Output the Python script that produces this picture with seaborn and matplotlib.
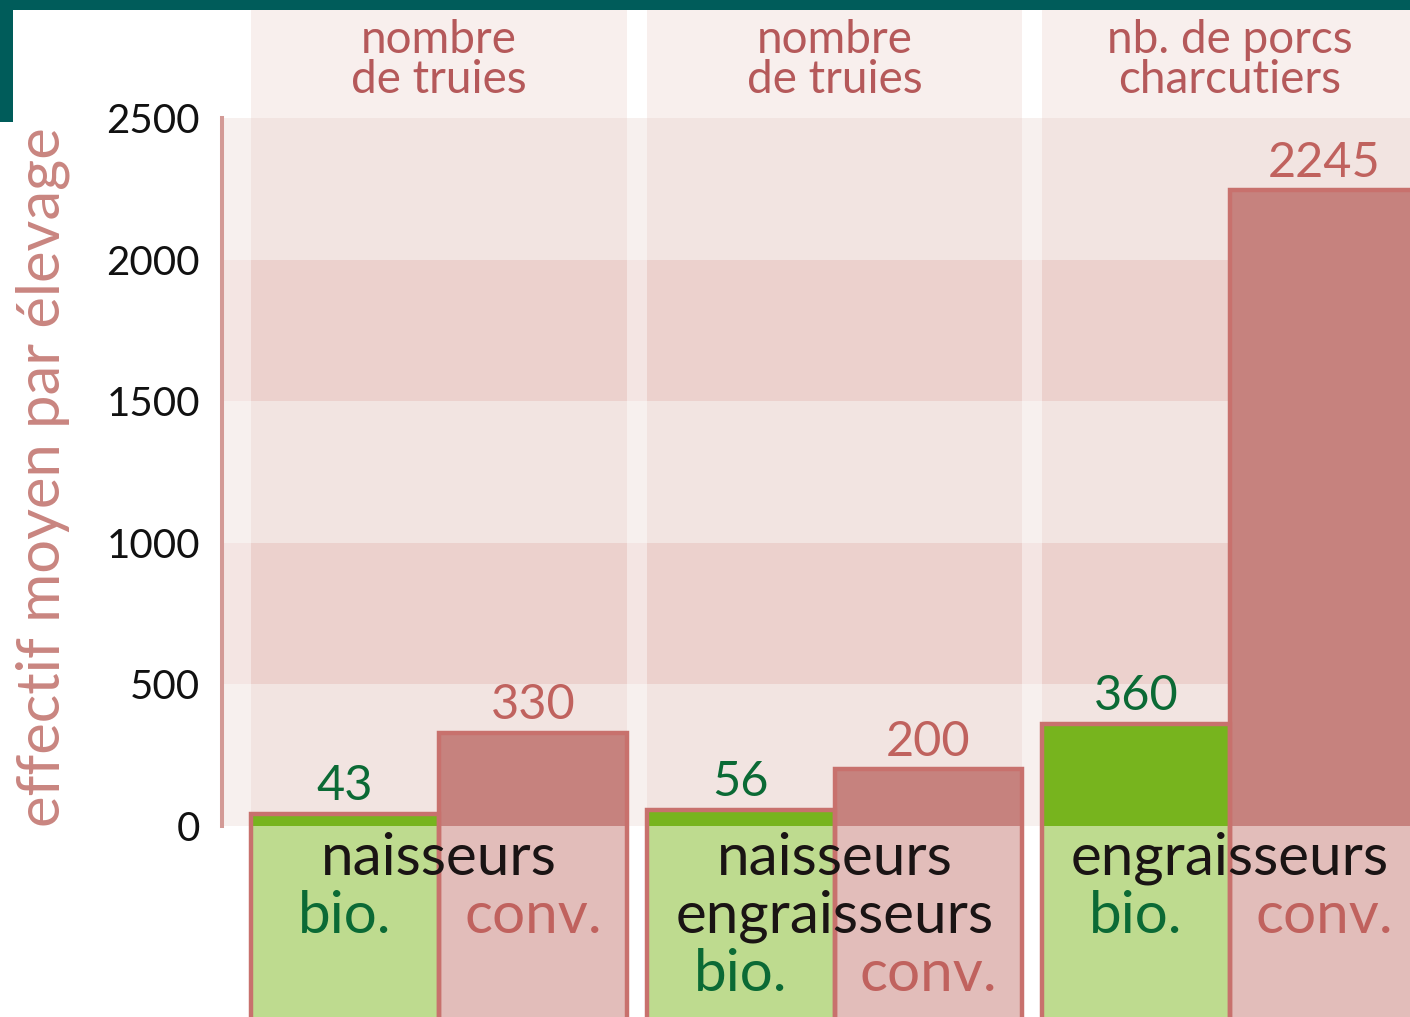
import pandas as pd
import matplotlib.pyplot as plt
import seaborn as sns
from matplotlib.patches import Rectangle

# data
groupes = ["naisseurs", "naisseurs\nengraisseurs", "engraisseurs"]
entetes = ["nombre\nde truies", "nombre\nde truies", "nb. de porcs\ncharcutiers"]
types = ["bio.", "conv."]
bio = [43, 56, 360]
conv = [330, 200, 2245]
yticks = [0, 500, 1000, 1500, 2000, 2500]

TEAL = "#005c5a"
EDGE = "#c8716d"
AXIS = "#d39a96"
BAR = {"bio.": "#77b41e", "conv.": "#c6827e"}
BOX = {"bio.": "#bedb8f", "conv.": "#e2bdba"}
TXT = {"bio.": "#0b6a35", "conv.": "#c0625e"}
STRIPE_LIGHT = "#f2e4e1"
STRIPE_DARK = "#ecd1cd"
HEADER = "#f8efed"


def main():
    df = pd.DataFrame({
        "groupe": groupes * 2,
        "type": [types[0]] * 3 + [types[1]] * 3,
        "effectif": bio + conv,
    })

    sns.set_style("white")
    plt.rcParams["font.family"] = ["Lato", "DejaVu Sans"]

    fig = plt.figure(figsize=(14.1, 10.17), dpi=100)
    ax = fig.add_axes([0, 0, 1, 1])

    sns.barplot(data=df, x="groupe", y="effectif", hue="type", hue_order=types,
                palette=BAR, width=0.95, gap=0, saturation=1, linewidth=0,
                legend=False, ax=ax, zorder=3)

    ymin, ymax = -674.4, 2916.7
    ax.set_xlim(-1.110, 2.455)
    ax.set_ylim(ymin, ymax)
    top = ymax - 10 / 0.2832

    # bar geometry as laid out by seaborn
    bars = list(ax.patches)
    n = len(groupes)
    cols = []
    for i in range(n):
        b, c = bars[i], bars[i + n]
        cols.append((b.get_x(), c.get_x() + c.get_width()))

    # background stripes
    xspine = -0.5487
    x0frac = (xspine - ax.get_xlim()[0]) / (ax.get_xlim()[1] - ax.get_xlim()[0])
    for k, (lo, hi) in enumerate(zip(yticks[:-1], yticks[1:])):
        ax.axhspan(lo, hi, xmin=x0frac, xmax=1,
                   color=STRIPE_LIGHT if k % 2 == 0 else STRIPE_DARK,
                   lw=0, zorder=0)
    # lighter gaps between the columns
    for i in range(n):
        left = xspine if i == 0 else cols[i - 1][1]
        right = cols[i][0]
        ax.add_patch(Rectangle((left, 0), right - left, yticks[-1],
                               facecolor="white", alpha=0.45, lw=0, zorder=1))
    # header boxes
    for (l, r), t in zip(cols, entetes):
        ax.add_patch(Rectangle((l, yticks[-1]), r - l, top - yticks[-1],
                               facecolor=HEADER, lw=0, zorder=1))
        ax.text((l + r) / 2, 2705, t, ha="center", va="center",
                fontsize=33, color="#b5595a", linespacing=0.92, zorder=5)

    # label boxes below zero + outlines running off the bottom edge
    for i, p in enumerate(bars):
        t = types[i // n]
        x, w, h = p.get_x(), p.get_width(), p.get_height()
        ax.bar(x, -ymin, bottom=ymin, width=w, align="edge",
               color=BOX[t], lw=0, zorder=2)
        ax.bar(x, h - ymin + 100, bottom=ymin - 100, width=w, align="edge",
               fill=False, edgecolor=EDGE, lw=3.2, zorder=4)
        ax.text(x + w / 2, h + 20, f"{h:.0f}", ha="center", va="bottom",
                fontsize=35, color=TXT[t], zorder=5)

    # category labels
    for (l, r), g in zip(cols, groupes):
        lines = g.split("\n")
        for j, line in enumerate(lines):
            ax.text((l + r) / 2, -113 - 205 * j, line, ha="center",
                    va="center", fontsize=42, color="#1a1414", zorder=5)
        ytype = -113 - 205 * len(lines)
        for i, t in enumerate(types):
            p = bars[i * n + groupes.index(g)]
            ax.text(p.get_x() + p.get_width() / 2, ytype, t, ha="center",
                    va="center", fontsize=42, color=TXT[t], zorder=5)

    # y axis
    for s in ["top", "right", "bottom"]:
        ax.spines[s].set_visible(False)
    ax.spines["left"].set_position(("data", xspine))
    ax.spines["left"].set_bounds(0, yticks[-1])
    ax.spines["left"].set_color(AXIS)
    ax.spines["left"].set_linewidth(2.9)
    ax.set_yticks(yticks)
    ax.set_yticklabels([str(v) for v in yticks])
    ax.tick_params(axis="y", direction="in", length=21.6, width=2.2,
                   color=AXIS, pad=16, labelsize=29, labelcolor="#111111")
    ax.set_xticks([])
    ax.set_xlabel("")
    ax.set_ylabel("effectif moyen par élevage", fontsize=43, color="#c98580")
    ax.yaxis.set_label_coords(0.050, 0.531, transform=fig.transFigure)
    ax.patch.set_visible(False)

    # teal frame corner
    fig.add_artist(Rectangle((0, 1 - 10 / 1017), 1, 10 / 1017,
                             transform=fig.transFigure, color=TEAL, lw=0))
    fig.add_artist(Rectangle((0, 1 - 122 / 1017), 13 / 1410, 122 / 1017,
                             transform=fig.transFigure, color=TEAL, lw=0))

    fig.savefig("out.png", dpi=100)
    plt.close(fig)


if __name__ == "__main__":
    main()
